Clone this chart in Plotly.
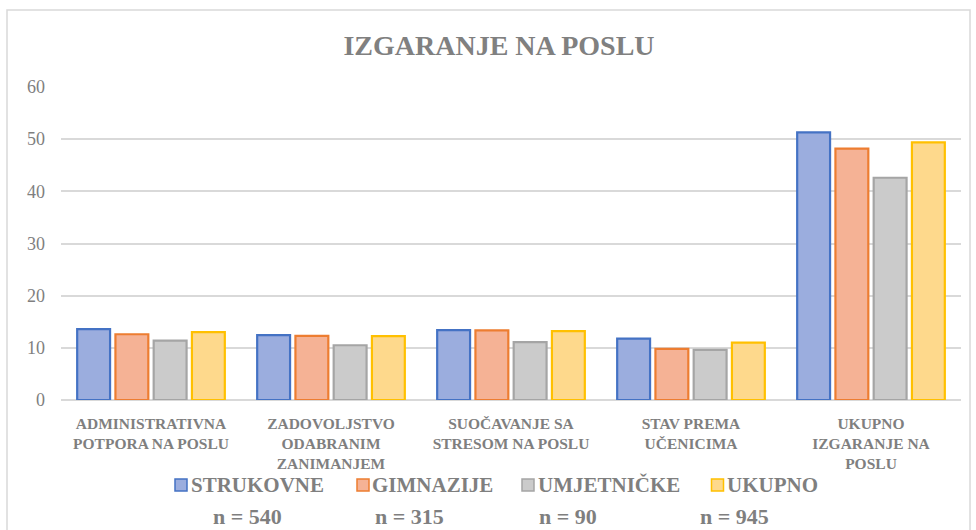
import plotly.graph_objects as go

categories = [
    "ADMINISTRATIVNA<br>POTPORA NA POSLU",
    "ZADOVOLJSTVO<br>ODABRANIM<br>ZANIMANJEM",
    "SUOČAVANJE SA<br>STRESOM NA POSLU",
    "STAV PREMA<br>UČENICIMA",
    "UKUPNO<br>IZGARANJE NA<br>POSLU",
]
strukovne = [13.6, 12.45, 13.4, 11.75, 51.3]
gimnazije = [12.6, 12.3, 13.35, 9.8, 48.2]
umjetnicke = [11.4, 10.5, 11.1, 9.6, 42.6]
ukupno = [13.0, 12.25, 13.2, 11.0, 49.4]
series_names = ["STRUKOVNE", "GIMNAZIJE", "UMJETNIČKE", "UKUPNO"]
n_labels = ["n = 540", "n = 315", "n = 90", "n = 945"]
y_ticks = [0, 10, 20, 30, 40, 50, 60]

fills = ["#9badde", "#f5b295", "#cbcbcb", "#fed98c"]
edges = ["#4472c4", "#ed7d31", "#a5a5a5", "#ffc000"]
serif = "Liberation Serif, Times New Roman, serif"
gray = "#7f7f7f"

W, H = 976, 530
L, R, T, B = 61, 15, 87, 130
pw, ph = W - L - R, H - T - B


def px_to_paper(px, py):
    return (px - L) / pw, (H - B - py) / ph


fig = go.Figure()
for name, vals, fc, ec in zip(series_names, [strukovne, gimnazije, umjetnicke, ukupno], fills, edges):
    fig.add_trace(go.Bar(
        x=categories, y=vals, name=name, showlegend=False,
        marker=dict(color=fc, line=dict(color=ec, width=2.2)),
    ))

shapes = []
x0, y1 = px_to_paper(7, 10)
x1, y0 = px_to_paper(970, 560)
shapes.append(dict(type="rect", xref="paper", yref="paper", x0=x0, x1=x1, y0=y0, y1=y1,
                   line=dict(color="#d9d9d9", width=1.5), fillcolor="rgba(0,0,0,0)", layer="below"))

annotations = []
leg_marker_x = [181, 363, 528, 717.5]
leg_text_x = [189, 370, 536, 725]
leg_y = 485
for name, fc, ec, mx, tx in zip(series_names, fills, edges, leg_marker_x, leg_text_x):
    ax0, ay0 = px_to_paper(mx - 6, leg_y + 6)
    ax1, ay1 = px_to_paper(mx + 6, leg_y - 6)
    shapes.append(dict(type="rect", xref="paper", yref="paper", x0=ax0, x1=ax1, y0=ay0, y1=ay1,
                       line=dict(color=ec, width=1.5), fillcolor=fc))
    tx_p, ty_p = px_to_paper(tx, leg_y)
    annotations.append(dict(text="<b>" + name + "</b>", xref="paper", yref="paper", x=tx_p, y=ty_p,
                            xanchor="left", yanchor="middle", showarrow=False,
                            font=dict(family=serif, size=21, color=gray)))

n_x = [247, 409, 568, 734]
for txt, nx in zip(n_labels, n_x):
    xp, yp = px_to_paper(nx, 516)
    annotations.append(dict(text="<b>" + txt + "</b>", xref="paper", yref="paper", x=xp, y=yp,
                            xanchor="center", yanchor="middle", showarrow=False,
                            font=dict(family=serif, size=22, color=gray)))

fig.update_layout(
    width=W, height=H,
    paper_bgcolor="white", plot_bgcolor="white",
    margin=dict(l=L, r=R, t=T, b=B),
    barmode="group", bargap=0.15, bargroupgap=0.14,
    title=dict(text="<b>IZGARANJE NA POSLU</b>", x=499 / W, xanchor="center", y=0.915, yanchor="middle",
               font=dict(family=serif, size=28, color="#808080")),
    font=dict(family=serif, color=gray),
    showlegend=False,
    xaxis=dict(showgrid=False, showline=False, ticks="",
               tickvals=categories, ticktext=["<b>" + c + "</b>" for c in categories],
               tickfont=dict(family=serif, size=15.5, color=gray), ticklabelstandoff=12),
    yaxis=dict(range=[0, 60], tickvals=y_ticks, showgrid=True, gridcolor="#d9d9d9", gridwidth=1.5,
               zeroline=True, zerolinecolor="#d9d9d9", zerolinewidth=1.5,
               tickfont=dict(family=serif, size=18, color=gray), ticklabelstandoff=15),
    shapes=shapes,
    annotations=annotations,
)

fig.write_html("out.html")
